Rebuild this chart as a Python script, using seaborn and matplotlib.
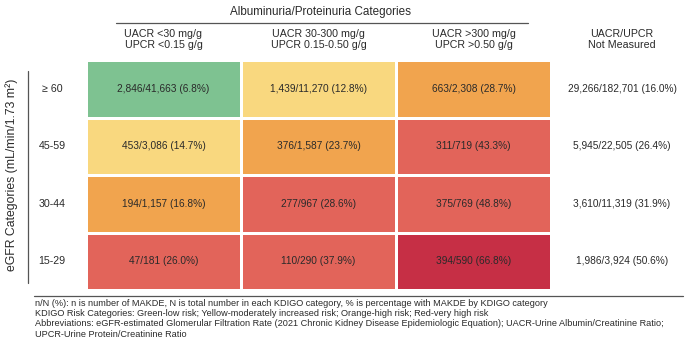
import numpy as np
import pandas as pd
import matplotlib
matplotlib.use("Agg")
import matplotlib.pyplot as plt
from matplotlib.colors import ListedColormap
import seaborn as sns

# ---- data ----
egfr_labels = ["\u2265 60", "45-59", "30-44", "15-29"]
alb_labels = ["UACR <30 mg/g\nUPCR <0.15 g/g",
              "UACR 30-300 mg/g\nUPCR 0.15-0.50 g/g",
              "UACR >300 mg/g\nUPCR >0.50 g/g"]
not_measured_label = "UACR/UPCR\nNot Measured"

n_events = [[2846, 1439, 663],
            [453, 376, 311],
            [194, 277, 375],
            [47, 110, 394]]
n_total = [[41663, 11270, 2308],
           [3086, 1587, 719],
           [1157, 967, 769],
           [181, 290, 590]]
pct = [[6.8, 12.8, 28.7],
       [14.7, 23.7, 43.3],
       [16.8, 28.6, 48.8],
       [26.0, 37.9, 66.8]]
# risk category: 0 green, 1 yellow, 2 orange, 3 red, 4 dark red
risk = [[0, 1, 2],
        [1, 2, 3],
        [2, 3, 3],
        [3, 3, 4]]

nm_events = [29266, 5945, 3610, 1986]
nm_total = [182701, 22505, 11319, 3924]
nm_pct = [16.0, 26.4, 31.9, 50.6]

risk_colors = ["#7ec291", "#f9d87f", "#f1a44e", "#e2645a", "#c62f45"]

footnote = ("n/N (%): n is number of MAKDE, N is total number in each KDIGO category, % is percentage with MAKDE by KDIGO category\n"
            "KDIGO Risk Categories: Green-low risk; Yellow-moderately increased risk; Orange-high risk; Red-very high risk\n"
            "Abbreviations: eGFR-estimated Glomerular Filtration Rate (2021 Chronic Kidney Disease Epidemiologic Equation); UACR-Urine Albumin/Creatinine Ratio;\n"
            "UPCR-Urine Protein/Creatinine Ratio")

# ---- build ----
sns.set_theme(style="white")
plt.rcParams["font.family"] = ["Liberation Sans", "DejaVu Sans"]

TXT = "#2a2a2a"
CELL_FS = 7.3
HEAD_FS = 7.7


def fmt(n, N, p):
    return f"{n:,}/{N:,} ({p:.1f}%)"


annot = np.array([[fmt(n_events[i][j], n_total[i][j], pct[i][j]) for j in range(3)]
                  for i in range(4)])
risk_df = pd.DataFrame(risk, index=egfr_labels, columns=alb_labels)

fig = plt.figure(figsize=(6.92, 3.47), dpi=100)
W, H = 692, 347
ax = fig.add_axes([86 / W, 1 - 290 / H, 465 / W, 230 / H])

sns.heatmap(risk_df, ax=ax, cmap=ListedColormap(risk_colors), vmin=-0.5, vmax=4.5,
            annot=annot, fmt="", cbar=False, linewidths=1.8, linecolor="white",
            annot_kws={"fontsize": CELL_FS, "color": TXT})

ax.xaxis.tick_top()
ax.set_xticklabels(alb_labels, fontsize=HEAD_FS, color=TXT, linespacing=1.15)
ax.set_yticklabels(egfr_labels, rotation=0, fontsize=HEAD_FS, color=TXT, ha="center")
ax.tick_params(axis="x", length=0, pad=7)
ax.tick_params(axis="y", length=0, pad=24.5)
ax.set_xlabel("")
ax.set_ylabel("")

# Not measured column
px = 465 / 3  # pixels per column
row_px = 230 / 4
xnm = (622 - 86) / px
for i in range(4):
    ax.text(xnm, i + 0.5, fmt(nm_events[i], nm_total[i], nm_pct[i]),
            ha="center", va="center", fontsize=CELL_FS, color=TXT, clip_on=False)
ax.text(xnm, -9.5 / row_px, not_measured_label, ha="center", va="bottom",
        fontsize=HEAD_FS, color=TXT, linespacing=1.15, clip_on=False)

# header title and line
fig.text(320 / W, 1 - 12 / H, "Albuminuria/Proteinuria Categories", ha="center",
         va="center", fontsize=8.4, color=TXT)
fig.add_artist(plt.Line2D([116 / W, 528 / W], [1 - 23 / H, 1 - 23 / H],
                          color="#555555", lw=0.9))

# y axis label and line
fig.text(12 / W, 1 - 175 / H, "eGFR Categories (mL/min/1.73 m\u00b2)", rotation=90,
         ha="center", va="center", fontsize=8.8, color=TXT)
fig.add_artist(plt.Line2D([28 / W, 28 / W], [1 - 71 / H, 1 - 283 / H],
                          color="#555555", lw=0.9))

# bottom line and footnote
fig.add_artist(plt.Line2D([34 / W, 683 / W], [1 - 296 / H, 1 - 296 / H],
                          color="#555555", lw=0.9))
fig.text(35 / W, 1 - 299 / H, footnote, ha="left", va="top", fontsize=6.6,
         color=TXT, linespacing=1.17)

fig.savefig("out.png", dpi=100)
